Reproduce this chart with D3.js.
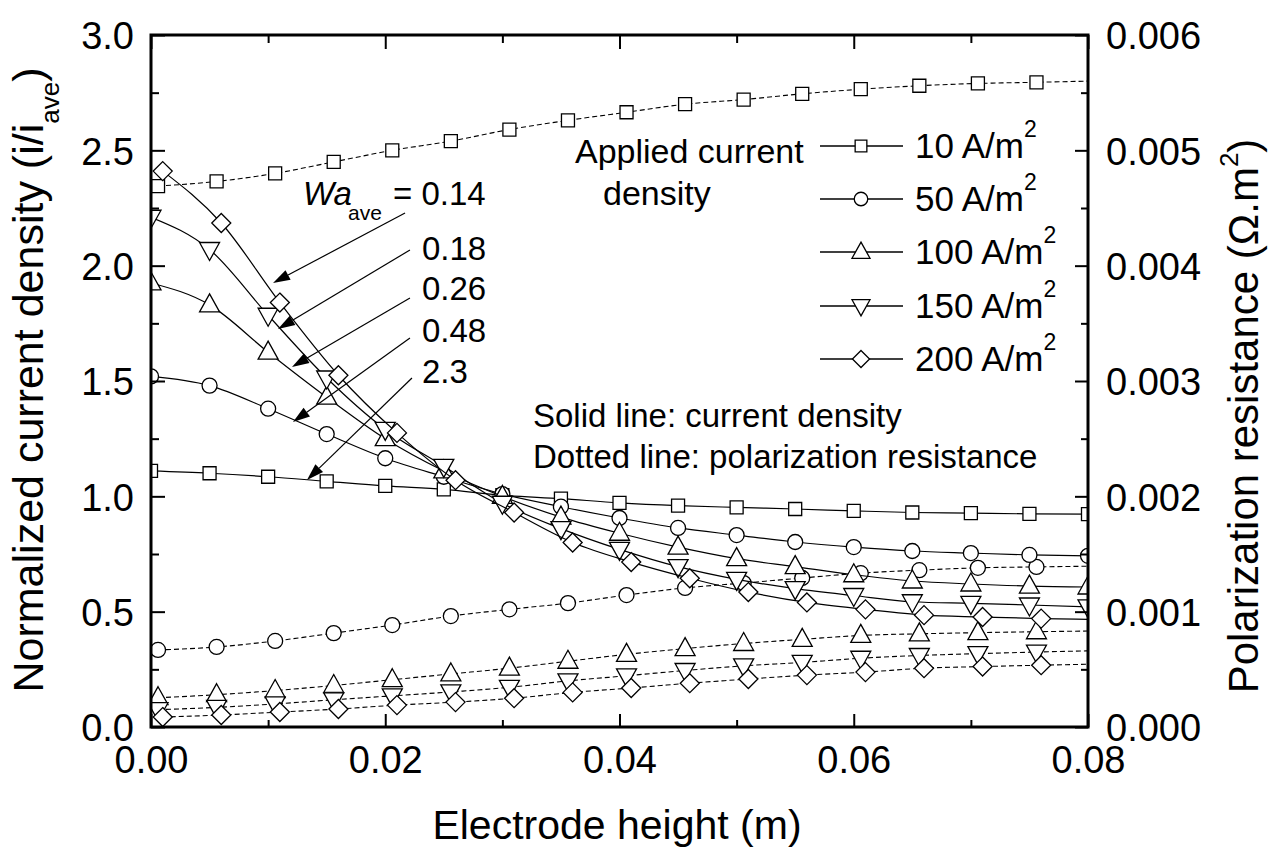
<!DOCTYPE html>
<html><head><meta charset="utf-8">
<script src="https://cdn.jsdelivr.net/npm/d3@7"></script>
<style>
body{margin:0;background:#fff}
svg{display:block}
text{font-family:Arial,"Liberation Sans",sans-serif;fill:#000}
</style>
</head><body>
<svg id="c" width="1268" height="850"></svg>
<script>
// ---------------- data ----------------
const xSolid    = [0,0.005,0.01,0.015,0.02,0.025,0.03,0.035,0.04,0.045,0.05,0.055,0.06,0.065,0.07,0.075,0.08];
const xSolidDia = [0.001,0.006,0.011,0.016,0.021,0.026,0.031,0.036,0.041,0.046,0.051,0.056,0.061,0.066,0.071,0.076,0.08];
const xDot      = [0.0006,0.0056,0.0106,0.0156,0.0206,0.0256,0.0306,0.0356,0.0406,0.0456,0.0506,0.0556,0.0606,0.0656,0.0706,0.0756,0.08];
const xDotDia   = [0.001,0.006,0.011,0.016,0.021,0.026,0.031,0.036,0.041,0.046,0.051,0.056,0.061,0.066,0.071,0.076,0.08];

// normalized current density (left axis)
const cd10  = [1.11,1.10,1.085,1.065,1.045,1.03,1.005,0.99,0.972,0.96,0.952,0.945,0.937,0.93,0.927,0.924,0.923];
const cd50  = [1.52,1.48,1.38,1.27,1.165,1.085,1.01,0.955,0.906,0.863,0.832,0.802,0.78,0.763,0.754,0.746,0.742];
const cd100 = [1.925,1.83,1.625,1.43,1.25,1.11,1.0,0.91,0.84,0.78,0.73,0.695,0.66,0.633,0.62,0.611,0.607];
const cd150 = [2.21,2.07,1.785,1.513,1.29,1.13,0.97,0.86,0.77,0.695,0.64,0.60,0.57,0.543,0.536,0.529,0.521];
const cd200 = [2.41,2.185,1.84,1.525,1.275,1.07,0.93,0.80,0.715,0.645,0.585,0.54,0.51,0.485,0.477,0.47,0.467];

// polarization resistance (right axis, ohm.m2)
const rp10  = [0.00469,0.00473,0.00480,0.00490,0.00500,0.00508,0.00518,0.00526,0.00533,0.00540,0.00544,0.00549,0.00553,0.00556,0.00558,0.00559,0.00560];
const rp50  = [0.000668,0.000694,0.000746,0.000814,0.000884,0.000962,0.00102,0.001074,0.001144,0.001206,0.001248,0.001292,0.001334,0.00136,0.00138,0.001388,0.001394];
const rp100 = [0.000254,0.00028,0.000316,0.00036,0.00041,0.00046,0.00051,0.00057,0.00063,0.00068,0.000724,0.00076,0.000794,0.000808,0.000818,0.000826,0.000832];
const rp150 = [0.00015,0.00017,0.0002,0.000236,0.00027,0.000304,0.000344,0.0004,0.000444,0.00049,0.00053,0.00056,0.000596,0.00062,0.000636,0.00065,0.00066];
const rp200 = [0.000086,0.000104,0.00013,0.000156,0.00019,0.000216,0.00025,0.0003,0.000338,0.00038,0.000416,0.00045,0.000476,0.00051,0.000524,0.000536,0.000544];

const legendLabels = ["10","50","100","150","200"];
const waLabels = ["0.14","0.18","0.26","0.48","2.3"];
const xTicks = [0,0.02,0.04,0.06,0.08];
const xMinor = [0.01,0.03,0.05,0.07];
const yLTicks = [0,0.5,1.0,1.5,2.0,2.5,3.0];
const yLMinor = [0.25,0.75,1.25,1.75,2.25,2.75];
const yRTicks = [0,0.001,0.002,0.003,0.004,0.005,0.006];
const yRMinor = [0.0005,0.0015,0.0025,0.0035,0.0045,0.0055];

// annotation arrows in data coordinates [startX, startV, tipX, tipV]
const arrows = [
  [0.02169,2.228,0.01042,1.925],
  [0.02211,2.068,0.01084,1.725],
  [0.02211,1.860,0.01204,1.561],
  [0.02211,1.686,0.01212,1.322],
  [0.02228,1.513,0.01332,1.071]
];
const waLabelV = [2.263,2.025,1.851,1.669,1.491];

// ---------------- chart ----------------
const svg = d3.select("#c");
const x  = d3.scaleLinear().domain([0,0.08]).range([151,1088]);
const yL = d3.scaleLinear().domain([0,3]).range([727,35]);
const yR = d3.scaleLinear().domain([0,0.006]).range([727,35]);

svg.append("defs").append("clipPath").attr("id","clip")
  .append("rect").attr("x",151).attr("y",35).attr("width",937).attr("height",692);

function sym(t, k){
  k = k||1;
  if(t==="sq"){const s=6.5*k;return `M${-s},${-s}h${2*s}v${2*s}h${-2*s}Z`;}
  if(t==="ci"){const r=7.5*k;return `M${-r},0a${r},${r} 0 1,0 ${2*r},0a${r},${r} 0 1,0 ${-2*r},0Z`;}
  if(t==="up"){const w=10*k,a=11*k,b=7*k;return `M0,${-a}L${w},${b}L${-w},${b}Z`;}
  if(t==="dn"){const w=10*k,a=11*k,b=7*k;return `M0,${a}L${w},${-b}L${-w},${-b}Z`;}
  if(t==="di"){const d=9.5*k;return `M0,${-d}L${d},0L0,${d}L${-d},0Z`;}
}

const plot = svg.append("g").attr("clip-path","url(#clip)");

const dotted = [
  {xs:xDot,ys:rp10,s:"sq",last:false},
  {xs:xDot,ys:rp50,s:"ci",last:false},
  {xs:xDot,ys:rp100,s:"up",last:false},
  {xs:xDot,ys:rp150,s:"dn",last:false},
  {xs:xDotDia,ys:rp200,s:"di",last:false}
];
const solid = [
  {xs:xSolid,ys:cd10,s:"sq",last:true},
  {xs:xSolid,ys:cd50,s:"ci",last:true},
  {xs:xSolid,ys:cd100,s:"up",last:true},
  {xs:xSolid,ys:cd150,s:"dn",last:true},
  {xs:xSolidDia,ys:cd200,s:"di",last:false}
];

function drawSeries(ser, yScale, dashed){
  const pts = ser.xs.map((v,i)=>[v,ser.ys[i]]);
  const line = d3.line().x(d=>x(d[0])).y(d=>yScale(d[1])).curve(d3.curveMonotoneX);
  plot.append("path").attr("d",line(pts)).attr("fill","none").attr("stroke","#000")
    .attr("stroke-width",dashed?1.1:1.2).attr("stroke-dasharray",dashed?"5,3":null);
  const mk = ser.last ? pts : pts.slice(0,-1);
  plot.selectAll(null).data(mk).enter().append("path")
    .attr("d",sym(ser.s)).attr("transform",d=>`translate(${x(d[0])},${yScale(d[1])})`)
    .attr("fill","#fff").attr("stroke","#000").attr("stroke-width",1.3);
}
dotted.forEach(s=>drawSeries(s,yR,true));
solid.forEach(s=>drawSeries(s,yL,false));

// ---------------- axes ----------------
const FS = 38;
function styleAxis(g){
  g.select(".domain").remove();
  g.selectAll(".tick line").attr("stroke","#000").attr("stroke-width",2);
  g.selectAll(".tick text").attr("font-size",FS).attr("font-family",'Arial,"Liberation Sans",sans-serif').attr("fill","#000");
}
svg.append("g").attr("transform","translate(0,727)")
  .call(d3.axisBottom(x).tickValues(xTicks).tickSizeInner(-13).tickSizeOuter(0).tickPadding(19).tickFormat(d3.format(".2f")))
  .call(styleAxis);
svg.append("g").attr("transform","translate(0,727)")
  .call(d3.axisBottom(x).tickValues(xMinor).tickSize(-7).tickFormat(""))
  .call(styleAxis);
svg.append("g").attr("transform","translate(0,35)")
  .call(d3.axisTop(x).tickValues(xTicks).tickSize(-14).tickFormat(""))
  .call(styleAxis);
svg.append("g").attr("transform","translate(0,35)")
  .call(d3.axisTop(x).tickValues(xMinor).tickSize(-8).tickFormat(""))
  .call(styleAxis);
svg.append("g").attr("transform","translate(151,0)")
  .call(d3.axisLeft(yL).tickValues(yLTicks).tickSizeInner(-14).tickSizeOuter(0).tickPadding(17).tickFormat(d3.format(".1f")))
  .call(styleAxis).selectAll(".tick text").attr("dy","0.36em");
svg.append("g").attr("transform","translate(151,0)")
  .call(d3.axisLeft(yL).tickValues(yLMinor).tickSize(-8).tickFormat(""))
  .call(styleAxis);
svg.append("g").attr("transform","translate(1088,0)")
  .call(d3.axisRight(yR).tickValues(yRTicks).tickSizeInner(-13).tickSizeOuter(0).tickPadding(18).tickFormat(d3.format(".3f")))
  .call(styleAxis).selectAll(".tick text").attr("dy","0.36em");
svg.append("g").attr("transform","translate(1088,0)")
  .call(d3.axisRight(yR).tickValues(yRMinor).tickSize(-7).tickFormat(""))
  .call(styleAxis);

svg.append("rect").attr("x",151).attr("y",35).attr("width",937).attr("height",692)
  .attr("fill","none").attr("stroke","#000").attr("stroke-width",3);

// titles
svg.append("text").attr("x",617).attr("y",839).attr("text-anchor","middle").attr("font-size",41)
  .text("Electrode height (m)");
const lt = svg.append("text").attr("transform","translate(43,380) rotate(-90)").attr("text-anchor","middle").attr("font-size",43);
lt.append("tspan").text("Normalized current density (i/i");
lt.append("tspan").attr("font-size",26).attr("dy",16).text("ave");
lt.append("tspan").attr("dy",-16).text(")");
const rt = svg.append("text").attr("transform","translate(1258,416) rotate(-90)").attr("text-anchor","middle").attr("font-size",42);
rt.append("tspan").text("Polarization resistance (\u03A9.m");
rt.append("tspan").attr("font-size",26).attr("dy",-20).text("2");
rt.append("tspan").attr("dy",20).text(")");

// legend
const legY = [146,199,252,306,359];
const legSym = ["sq","ci","up","dn","di"];
legendLabels.forEach((lab,i)=>{
  const g = svg.append("g").attr("transform",`translate(0,${legY[i]})`);
  g.append("line").attr("x1",820).attr("x2",903).attr("stroke","#000").attr("stroke-width",1.3);
  g.append("path").attr("d",sym(legSym[i],0.9)).attr("transform","translate(861,0)")
    .attr("fill","#fff").attr("stroke","#000").attr("stroke-width",1.3);
  const t = g.append("text").attr("x",915).attr("y",12).attr("font-size",35);
  t.append("tspan").text(lab+" A/m");
  t.append("tspan").attr("font-size",23).attr("dy",-21).text("2");
});
svg.append("text").attr("x",575).attr("y",163).attr("font-size",34).text("Applied current");
svg.append("text").attr("x",603).attr("y",205).attr("font-size",34).text("density");
svg.append("text").attr("x",533).attr("y",427).attr("font-size",33).text("Solid line: current density");
svg.append("text").attr("x",533).attr("y",468).attr("font-size",33).text("Dotted line: polarization resistance");

// Wa annotations
svg.append("text").attr("x",303).attr("y",yL(waLabelV[0])).attr("font-size",33).attr("font-style","italic").text("Wa");
svg.append("text").attr("x",348).attr("y",yL(waLabelV[0])+15).attr("font-size",21).text("ave");
svg.append("text").attr("x",393).attr("y",yL(waLabelV[0])).attr("font-size",33).text("= "+waLabels[0]);
waLabels.slice(1).forEach((l,i)=>{
  svg.append("text").attr("x",422).attr("y",yL(waLabelV[i+1])).attr("font-size",33).text(l);
});
arrows.forEach(a=>{
  const x1=x(a[0]),y1=yL(a[1]),x2=x(a[2]),y2=yL(a[3]);
  const dx=x2-x1,dy=y2-y1,L=Math.hypot(dx,dy),ux=dx/L,uy=dy/L;
  const hl=17,hw=5.5;
  const bx=x2-ux*hl,by=y2-uy*hl;
  svg.append("line").attr("x1",x1).attr("y1",y1).attr("x2",bx).attr("y2",by).attr("stroke","#000").attr("stroke-width",1.2);
  svg.append("path").attr("d",`M${x2},${y2}L${bx-uy*hw},${by+ux*hw}L${bx+uy*hw},${by-ux*hw}Z`).attr("fill","#000");
});
</script>
</body></html>
